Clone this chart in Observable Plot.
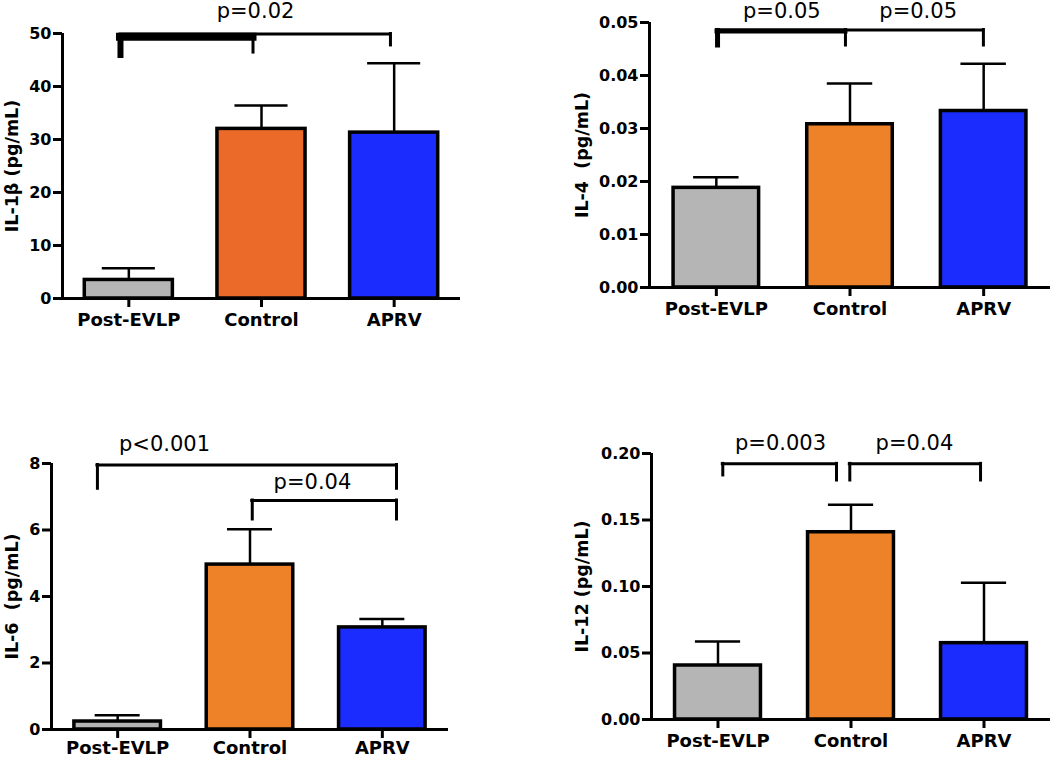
<!DOCTYPE html>
<html><head><meta charset="utf-8">
<script src="https://cdn.jsdelivr.net/npm/d3@7"></script>
<script src="https://cdn.jsdelivr.net/npm/@observablehq/plot@0.6"></script>
<style>
body{margin:0;background:#fff;}
#wrap{position:relative;width:1050px;height:759px;overflow:hidden;background:#fff;}
#wrap > svg{position:absolute;}
</style></head><body><div id="wrap"></div>
<script>
// ---- data ----
const categories = ["Post-EVLP", "Control", "APRV"];

const il1bMean = [3.5, 32.0, 31.3];
const il1bSEM  = [2.2, 4.4, 13.1];
const il1bTicks = [0, 10, 20, 30, 40, 50];
const il1bP = ["p=0.02"];

const il4Mean = [0.0188, 0.0308, 0.0333];
const il4SEM  = [0.0020, 0.0077, 0.0089];
const il4Ticks = [0, 0.01, 0.02, 0.03, 0.04, 0.05];
const il4P = ["p=0.05", "p=0.05"];

const il6Mean = [0.24, 4.96, 3.07];
const il6SEM  = [0.19, 1.06, 0.25];
const il6Ticks = [0, 2, 4, 6, 8];
const il6P = ["p<0.001", "p=0.04"];

const il12Mean = [0.0406, 0.1408, 0.0574];
const il12SEM  = [0.0180, 0.0206, 0.0454];
const il12Ticks = [0, 0.05, 0.10, 0.15, 0.20];
const il12P = ["p=0.003", "p=0.04"];

// ---- styles ----
const GRAY = "#b5b5b5", ORANGE1 = "#eb6a29", ORANGE2 = "#ee8228", BLUE = "#1b2cfe";
const FONT = "DejaVu Sans";

function panel(cfg) {
  const rows = categories.map((c, i) => ({
    i, cat: c, mean: cfg.mean[i], upper: cfg.mean[i] + cfg.sem[i], fill: cfg.colors[i]
  }));
  const hw = cfg.barHalf, cap = cfg.capHalf;
  const bracketMarks = [];
  cfg.brackets.forEach(b => {
    bracketMarks.push(Plot.ruleY([b], {y: "y", x1: "x1", x2: "x2", strokeWidth: b.w, strokeLinecap: "square"}));
    b.legs.forEach(l => {
      bracketMarks.push(Plot.ruleX([{x: l[0], y1: b.y, y2: l[1]}], {x: "x", y1: "y1", y2: "y2", strokeWidth: l[2] ?? 3, strokeLinecap: "square"}));
    });
  });
  const labelRows = cfg.pLabels.map((t, k) => ({text: t, x: cfg.pPos[k][0], y: cfg.pPos[k][1]}));
  const svg = Plot.plot({
    width: cfg.width, height: cfg.height,
    marginLeft: cfg.ml, marginRight: cfg.mr, marginTop: cfg.mt, marginBottom: cfg.mb,
    x: {domain: [-0.5, 2.5], axis: null},
    y: {domain: cfg.domain, axis: null},
    color: {type: "identity"},
    style: {fontFamily: FONT, background: "transparent", overflow: "visible", color: "black"},
    marks: [
      Plot.rect(rows, {x1: d => d.i - hw, x2: d => d.i + hw, y1: 0, y2: "mean", fill: "fill", stroke: "black", strokeWidth: 3.5}),
      Plot.ruleX(rows, {x: "i", y1: "mean", y2: "upper", strokeWidth: 2.5}),
      Plot.ruleY(rows, {y: "upper", x1: d => d.i - cap, x2: d => d.i + cap, strokeWidth: 2.5}),
      Plot.ruleY([0], {strokeWidth: 3}),
      Plot.ruleX([-0.5], {strokeWidth: 3}),
      Plot.axisY(cfg.ticks, {tickFormat: cfg.fmt, tickSize: 9, tickPadding: 2, strokeWidth: 3, fontSize: 16, fontWeight: "bold", label: null}),
      Plot.axisX([0, 1, 2], {tickFormat: i => categories[i], tickSize: 9, tickPadding: cfg.xPad ?? 6, strokeWidth: 3, fontSize: 18, fontWeight: "bold", label: null}),
      Plot.text([cfg.ylabel], {text: d => d, frameAnchor: "left", textAnchor: "middle", rotate: -90, dx: cfg.ylabelDx, fontSize: 17.5, fontWeight: "bold"}),
      ...bracketMarks,
      Plot.text(labelRows, {x: "x", y: "y", text: "text", fontSize: 21, fontWeight: "normal", lineAnchor: "middle"})
    ]
  });
  svg.style.left = cfg.left + "px";
  svg.style.top = cfg.top + "px";
  document.getElementById("wrap").appendChild(svg);
}

panel({
  left: 0, top: 0, width: 525, height: 340, ml: 62, mr: 65, mt: 33, mb: 42,
  mean: il1bMean, sem: il1bSEM, ticks: il1bTicks, fmt: d => d, domain: [0, 50],
  colors: [GRAY, ORANGE1, BLUE], barHalf: 0.332, capHalf: 0.2,
  ylabel: "IL-1\u03b2 (pg/mL)", ylabelDx: -50,
  brackets: [
    {x1: -0.063, x2: 1.972, y: 49.9, w: 3, legs: [[1.972, 47.75, 3]]},
    {x1: -0.063, x2: 0.936, y: 49.4, w: 8, legs: [[-0.063, 45.85, 6], [0.936, 46.4, 3]]}
  ],
  pLabels: il1bP, pPos: [[0.955, 54.2]]
});

panel({
  left: 560, top: 0, width: 490, height: 340, ml: 89, mr: 0, mt: 22, mb: 53,
  mean: il4Mean, sem: il4SEM, ticks: il4Ticks, fmt: d3.format(".2f"), domain: [0, 0.05],
  colors: [GRAY, ORANGE2, BLUE], barHalf: 0.32, capHalf: 0.17,
  ylabel: "IL-4\u00a0\u00a0(pg/mL)", ylabelDx: -67,
  brackets: [
    {x1: 0.009, x2: 1.998, y: 0.04858, w: 3, legs: [[0.966, 0.04566, 3], [1.998, 0.04566, 3]]},
    {x1: 0.009, x2: 0.966, y: 0.0484, w: 5, legs: [[0.009, 0.04566, 5]]}
  ],
  pLabels: il4P, pPos: [[0.49, 0.0521], [1.51, 0.0521]]
});

panel({
  left: 0, top: 420, width: 525, height: 339, ml: 51, mr: 77, mt: 43, mb: 30, xPad: 3,
  mean: il6Mean, sem: il6SEM, ticks: il6Ticks, fmt: d => d, domain: [0, 8],
  colors: [GRAY, ORANGE2, BLUE], barHalf: 0.327, capHalf: 0.17,
  ylabel: "IL-6\u00a0\u00a0(pg/mL)", ylabelDx: -39,
  brackets: [
    {x1: -0.153, x2: 2.107, y: 7.955, w: 3, legs: [[-0.153, 7.24, 3], [2.107, 7.24, 3]]},
    {x1: 1.017, x2: 2.107, y: 6.887, w: 3, legs: [[1.017, 6.316, 3], [2.107, 6.316, 3]]}
  ],
  pLabels: il6P, pPos: [[0.354, 8.59], [1.472, 7.44]]
});

panel({
  left: 560, top: 420, width: 490, height: 339, ml: 91, mr: 0, mt: 33, mb: 40,
  mean: il12Mean, sem: il12SEM, ticks: il12Ticks, fmt: d3.format(".2f"), domain: [0, 0.2],
  colors: [GRAY, ORANGE2, BLUE], barHalf: 0.323, capHalf: 0.17,
  ylabel: "IL-12 (pg/mL)", ylabelDx: -69,
  brackets: [
    {x1: 0.036, x2: 0.891, y: 0.1922, w: 3, legs: [[0.036, 0.1835, 3], [0.891, 0.1797, 3]]},
    {x1: 0.991, x2: 1.974, y: 0.1922, w: 3, legs: [[0.991, 0.1797, 3], [1.974, 0.1797, 3]]}
  ],
  pLabels: il12P, pPos: [[0.47, 0.2077], [1.477, 0.2077]]
});
</script></body></html>
